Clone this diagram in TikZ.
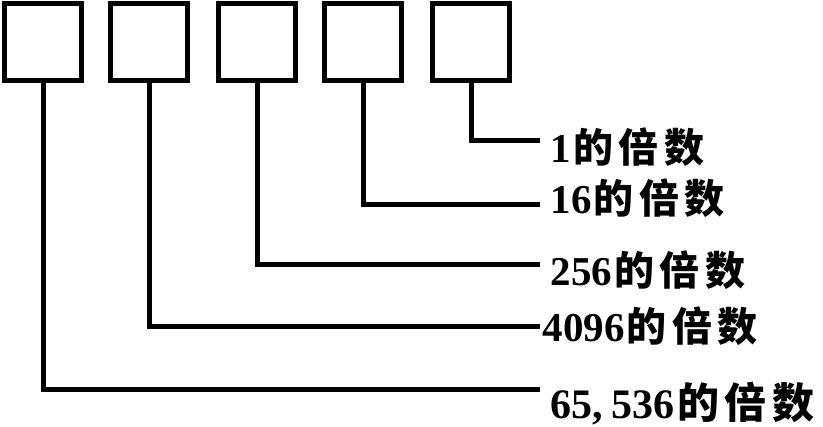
\documentclass[tikz,border=0pt]{standalone}
\usepackage{fontspec}
\newfontfamily\cjk{Noto Sans CJK SC}[LetterSpace=14]
\newfontfamily\dgtfont{Liberation Serif}
\newcommand\dgt{\dgtfont\bfseries\fontsize{41}{41}\selectfont}
\begin{document}
\begin{tikzpicture}[x=1pt,y=-1pt,line width=5pt,
	digit/.style={draw, line width=5pt, minimum width=77pt, minimum height=77pt, inner sep=0pt},
	lbl/.style={anchor=west, inner sep=0pt, font=\cjk\bfseries\fontsize{40}{40}\selectfont}]
	\useasboundingbox (0,0) rectangle (823,427);
	\node[digit] (d5) at (43,42) {};
	\node[digit] (d4) at (149,42) {};
	\node[digit] (d3) at (257,42) {};
	\node[digit] (d2) at (363,42) {};
	\node[digit] (d1) at (471,42) {};
	
	\coordinate (e1) at (540,141);
	\coordinate (e2) at (540,205);
	\coordinate (e3) at (540,265);
	\coordinate (e4) at (540,327);
	\coordinate (e5) at (540,390);
	
	\node[lbl] (l1) at (548,147) {{\dgt 1}\kern2pt 的倍数};
	\node[lbl] (l2) at (548,198) {{\dgt 16}\kern2pt 的倍数};
	\node[lbl] (l3) at (548,270) {{\dgt 256}\kern2pt 的倍数};
	\node[lbl] (l4) at (540,326) {{\dgt 4096}\kern2pt 的倍数};
	\node[lbl, font=\cjk\bfseries\fontsize{42}{42}\selectfont] (l5) at (548,404) {{\dgt\fontsize{42}{42}\selectfont 65,\kern9pt 536}\kern2pt 的倍数};
	
	\draw (d1.south) |- (e1);
	\draw (d2.south) |- (e2);
	\draw (d3.south) |- (e3);
	\draw (d4.south) |- (e4);
	\draw (d5.south) |- (e5);
\end{tikzpicture}
\end{document}
